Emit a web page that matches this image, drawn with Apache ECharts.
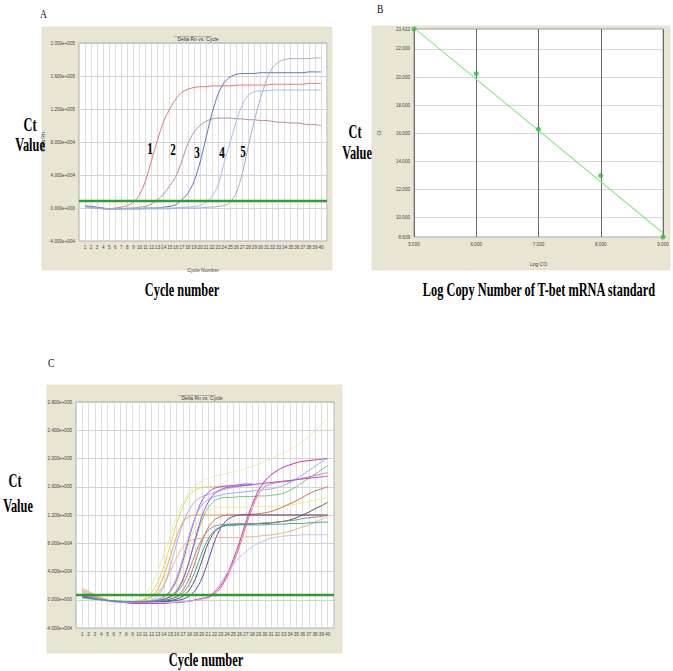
<!DOCTYPE html>
<html><head><meta charset="utf-8">
<script src="https://cdn.jsdelivr.net/npm/echarts@6/dist/echarts.min.js"></script>
<style>html,body{margin:0;padding:0;background:#fff}#c{width:673px;height:671px}</style>
</head><body><div id="c"></div>
<script>
// ---------- DATA ----------
const cycles = [1,2,3,4,5,6,7,8,9,10,11,12,13,14,15,16,17,18,19,20,21,22,23,24,25,26,27,28,29,30,31,32,33,34,35,36,37,38,39,40];
// Panel A: Delta Rn (x1000) per cycle for the 5 standards
const stdNames = ['1','2','3','4','5'];
const std1 = [2,1,0,-1,-1,0,1,3,7,16,33,58,83,105,120,132,140,144,146,147,147,148,148,148,148,149,149,149,149,149,149,150,150,150,150,150,150,151,151,151];
const std2 = [2,1,0,-1,-1,-1,-1,0,0,1,2,5,10,17,27,38,57,78,92,100,105,108,109,109,109,108,108,107,107,106,106,105,104,104,103,103,102,101,101,100];
const std3 = [3,2,1,0,-1,-1,-1,-1,-1,-1,0,0,0,1,2,4,10,18,32,55,85,115,138,152,159,162,163,163,163,164,164,164,164,164,164,164,164,165,165,165];
const std4 = [2,1,0,-1,-1,-1,-1,-1,-1,-1,-1,0,0,0,0,0,1,1,2,3,7,14,28,55,80,105,125,137,141,142,142,143,143,143,143,143,143,143,143,143];
const std5 = [1,0,0,-1,-1,-1,-1,-1,-1,-1,-1,-1,-1,-1,-1,0,0,0,0,0,1,1,2,3,7,18,42,75,106,133,155,170,177,180,181,181,181,181,182,182];
const thresholdA = 8.5;
const yTicksA = [-40,0,40,80,120,160,200];

// Panel B: standard curve
const logCO = [5,6,7,8,9];
const ctVals = [23.422,20.24,16.29,12.98,8.609];
const fitX = [5,9];
const fitCt = [23.5,8.9];
const yTicksB = [8.609,10,12,14,16,18,20,22,23.422];
const xTicksB = [5,6,7,8,9];

// Panel C: samples, Delta Rn (x1000)
const s01 = [5,3,1,0,-1,-2,-2,-2,-1,2,8,20,40,65,92,118,138,152,162,168,172,175,177,179,181,183,186,189,192,196,200,204,208,213,218,224,231,239,248,258];
const s02 = [8,5,2,0,-2,-3,-3,-3,-3,-2,2,10,25,48,78,108,132,148,156,159,160,160,161,161,161,162,162,162];
const s03 = [12,8,4,1,-1,-2,-3,-3,-3,-3,-2,0,6,20,48,80,108,128,140,146,149,152,155,157,159,161,162,163];
const s04 = [6,4,2,0,-1,-2,-3,-4,-4,-4,-3,-2,0,4,12,28,55,88,118,140,152,158,160,161,162,163,164,164];
const s05 = [14,10,6,3,0,-2,-3,-3,-3,-2,0,5,15,35,62,90,110,118,120,120,120,120,120,120,120,120,120,120,120,120,120,120,120,120,120,120,120,120,120,120];
const s06 = [10,7,4,1,-1,-2,-3,-4,-4,-4,-4,-3,-2,0,5,14,30,55,85,112,130,140,144,145,145,146,146,146,147,147,148,149,151,155,160,166,172,178,184,190];
const s07 = [3,2,1,0,-1,-2,-3,-4,-5,-5,-5,-5,-5,-5,-4,-4,-3,-2,-1,1,3,8,17,32,52,76,104,130,150,160,164,166,167,168,170,172,174,176,178,180];
const s08 = [4,3,1,0,-1,-2,-3,-4,-5,-5,-5,-5,-5,-5,-4,-4,-3,-2,0,2,4,10,20,36,57,82,110,135,155,168,177,183,188,191,194,196,197,198,199,200];
const s09 = [9,6,3,1,-1,-2,-3,-3,-3,-3,-3,-2,0,3,10,24,48,80,105,120,127,130,131,131,131,131,131,131,132,132,132,133,133,134,135,137,139,141,143,145];
const s10 = [7,5,3,1,-1,-2,-3,-3,-3,-3,-3,-3,-2,-1,1,5,14,30,55,82,102,113,118,120,120,120,121,121,122,123,125,128,132,136,140,145,150,154,157,160];
const s11 = [5,3,1,0,-1,-2,-3,-3,-3,-3,-3,-3,-3,-2,-1,1,5,14,30,55,80,96,103,106,107,107,107,107,108,108,109,110,111,113,116,120,124,129,133,138];
const s12 = [6,4,2,0,-1,-2,-3,-3,-4,-4,-4,-4,-3,-3,-2,-1,1,5,14,30,55,82,102,113,118,120,120,120,120,120,120,120,120,120,120,120,120,120,120,120];
const s13 = [4,3,1,0,-1,-2,-2,-3,-3,-3,-3,-2,-1,1,4,10,22,42,66,86,98,104,106,107,107,108,108,108,108,109,109,110,111,112,113,115,116,117,118,120];
const s14 = [16,12,7,3,0,-2,-3,-3,-3,-2,0,4,10,22,40,60,75,83,86,87,88,88,88,88,88,88,89,89,90,91,92,93,95,97,100,103,106,110,114,118];
const s15 = [2,1,0,-1,-2,-3,-4,-4,-4,-4,-4,-4,-4,-4,-4,-3,-3,-2,-1,1,5,12,24,38,50,60,68,75,80,84,87,89,90,91,91,92,92,92,92,92];
const s16 = [8,5,3,1,-1,-2,-3,-3,-3,-3,-2,-1,1,5,14,32,60,92,118,134,142,146,148,150,151,152,153,154,155,156,157,159,162,166,171,177,183,189,195,200];
const s17 = [5,3,1,0,-1,-2,-3,-3,-3,-3,-3,-2,-1,1,4,12,28,55,88,118,138,150,156,159,160,161,162,163,164,165,166,167,168,169,170,171,172,173,174,175];
const s18 = [3,2,1,0,-1,-2,-2,-3,-3,-3,-3,-3,-2,-1,1,4,10,22,42,66,86,98,103,105,105,106,106,106,106,106,107,107,107,108,108,108,109,109,110,110];
const samplesC = [s01,s02,s03,s04,s05,s06,s07,s08,s09,s10,s11,s12,s13,s14,s15,s16,s17,s18];
const thresholdC = 7;
const yTicksC = [-40,0,40,80,120,160,200,240,280];

// ---------- STYLE ----------
const stdColors = ['#e07878','#b48aa6','#5e72c4','#a8bcec','#9fb2c8'];
const sampleColors = ['#e4f0a8','#e2d65a','#a8aaf2','#b64cc8','#f0a646','#78c878','#ec6a98','#d02ea8','#eeee90','#c87454','#54545c','#4c4cac','#9c8c74','#ecb478','#ccbcf2','#94b2f0','#a44ce0','#44a2a2'];
const sans = 'Liberation Sans';
const serif = 'Liberation Serif';
const beige = '#e8e5d2';

function sci(v){
  const n = v*1000;
  if (n === 0) return '0.000e+000';
  const e = Math.floor(Math.log10(Math.abs(n)) + 1e-9);
  const m = n/Math.pow(10,e);
  return m.toFixed(3)+'e'+(e<0?'-':'+')+String(Math.abs(e)).padStart(3,'0');
}
const tinyLabel = {fontFamily:sans,fontSize:4.6,color:'#444'};

function cycleAxis(gi){
  return {type:'value',gridIndex:gi,min:0,max:41,interval:1,
    axisLine:{show:false},axisTick:{show:false},
    axisLabel:Object.assign({margin:4,hideOverlap:false,showMinLabel:true,showMaxLabel:true,
      formatter:v=>(v>=1&&v<=40)?String(v):''},tinyLabel),
    splitLine:{show:true,lineStyle:{color:'#d6d6d6',width:0.8}}};
}
function rnAxis(gi,ticks){
  return {type:'value',gridIndex:gi,min:ticks[0],max:ticks[ticks.length-1],interval:40,
    axisLine:{show:false},axisTick:{show:false},
    axisLabel:Object.assign({margin:4,formatter:sci,showMinLabel:true,showMaxLabel:true},tinyLabel),
    splitLine:{show:true,lineStyle:{color:'#c8c8c8',width:0.8}}};
}
function thrLine(val){
  return {silent:true,symbol:['none','none'],label:{show:false},
    lineStyle:{color:'#2f9e2f',width:2.4,type:'solid'},data:[{yAxis:val}]};
}

const series = [];
[std1,std2,std3,std4,std5].forEach((arr,i)=>{
  const s = {type:'line',name:stdNames[i],xAxisIndex:0,yAxisIndex:0,showSymbol:false,smooth:0.3,
    lineStyle:{color:stdColors[i],width:1},data:arr.map((v,k)=>[cycles[k],v]),z:3};
  if(i===0) s.markLine = thrLine(thresholdA);
  series.push(s);
});
series.push({type:'line',xAxisIndex:1,yAxisIndex:1,showSymbol:false,
  lineStyle:{color:'#8fe88f',width:1.2},data:fitX.map((x,k)=>[x,fitCt[k]]),z:2});
series.push({type:'scatter',xAxisIndex:1,yAxisIndex:1,symbolSize:5,
  itemStyle:{color:'#2fbf3a'},data:logCO.map((x,k)=>[x,ctVals[k]]),z:3});
samplesC.forEach((arr,i)=>{
  const s = {type:'line',xAxisIndex:2,yAxisIndex:2,showSymbol:false,smooth:0.3,
    lineStyle:{color:sampleColors[i],width:1},data:arr.map((v,k)=>[cycles[k],v]),z:3};
  if(i===0) s.markLine = thrLine(thresholdC);
  series.push(s);
});

function bigText(x,y,t,size,align){
  return {type:'text',x:x,y:y,scaleX:0.65,z:50,
    style:{text:t,font:'bold '+(size||19)+'px '+serif,fill:'#000',align:align||'center',verticalAlign:'middle'}};
}
function letter(x,y,t){
  return {type:'text',x:x,y:y,scaleX:0.8,z:50,
    style:{text:t,font:'12px '+serif,fill:'#111',align:'left',verticalAlign:'middle'}};
}
function frame(x,y,w,h){
  return {type:'rect',z:-10,shape:{x:x,y:y,width:w,height:h},style:{fill:beige,stroke:'#d8d4bf',lineWidth:0.5}};
}
function underline(cx,y,w){
  return {type:'line',z:5,shape:{x1:cx-w/2,y1:y,x2:cx+w/2,y2:y},style:{stroke:'#555',lineWidth:0.4}};
}

const option = {
  animation:false,
  backgroundColor:'#fff',
  title:[
    {text:'Delta Rn vs. Cycle',left:193,top:31,textAlign:'center',textStyle:{fontFamily:sans,fontSize:5,fontWeight:'normal',color:'#333'}},
    {text:'Delta Rn vs. Cycle',left:197,top:390,textAlign:'center',textStyle:{fontFamily:sans,fontSize:5,fontWeight:'normal',color:'#333'}}
  ],
  grid:[
    {left:79,top:43,width:248,height:198,show:true,backgroundColor:'#fff',borderColor:'#9a9a9a',borderWidth:0.8},
    {left:414,top:29,width:249,height:208,show:true,backgroundColor:'#fff',borderColor:'#8a8a8a',borderWidth:0.8},
    {left:76,top:402,width:258,height:226,show:true,backgroundColor:'#fff',borderColor:'#9a9a9a',borderWidth:0.8}
  ],
  xAxis:[
    Object.assign(cycleAxis(0),{name:'Cycle Number',nameLocation:'middle',nameGap:26,nameTextStyle:{fontFamily:sans,fontSize:5,color:'#444'}}),
    {type:'value',gridIndex:1,min:5,max:9,interval:1,name:'Log CO',nameLocation:'middle',nameGap:24,
      nameTextStyle:{fontFamily:sans,fontSize:5,color:'#444'},
      axisLine:{show:false},axisTick:{show:false},
      axisLabel:Object.assign({margin:5,formatter:v=>v.toFixed(3),showMinLabel:true,showMaxLabel:true},tinyLabel),
      splitLine:{show:true,lineStyle:{color:'#6a6a6a',width:1}}},
    cycleAxis(2)
  ],
  yAxis:[
    Object.assign(rnAxis(0,yTicksA),{name:'Delta Rn',nameLocation:'middle',nameGap:31,nameRotate:90,nameTextStyle:{fontFamily:sans,fontSize:5,color:'#444'}}),
    {type:'value',gridIndex:1,min:yTicksB[0],max:yTicksB[yTicksB.length-1],
      name:'Ct',nameLocation:'middle',nameGap:33,nameRotate:90,nameTextStyle:{fontFamily:sans,fontSize:5,color:'#444'},
      axisLine:{show:false},
      axisTick:{show:false,customValues:yTicksB},
      axisLabel:Object.assign({margin:4,customValues:yTicksB,formatter:v=>v.toFixed(3)},tinyLabel),
      splitLine:{show:true,lineStyle:{color:'#cccccc',width:0.8}}},
    rnAxis(2,yTicksC)
  ],
  graphic:[
    frame(42,27,290,243), frame(372,26,298,244), frame(47,385,295,268),
    underline(193,36.5,38), underline(197,395.5,38),
    letter(40,14,'A'), letter(377,9,'B'), letter(48,363,'C'),
    bigText(30,124,'Ct'), bigText(30,144,'Value'),
    bigText(355,131,'Ct'), bigText(357,152,'Value'),
    bigText(15,480,'Ct'), bigText(18,505,'Value'),
    bigText(182,289,'Cycle number'),
    bigText(539,289,'Log Copy Number of T-bet mRNA standard'),
    bigText(206,659,'Cycle number'),
    bigText(150,148,'1',17), bigText(173,149,'2',17), bigText(197,152,'3',17), bigText(222,152,'4',17), bigText(243,151,'5',17)
  ],
  series:series
};
const chart = echarts.init(document.getElementById('c'),null,{renderer:'svg'});
chart.setOption(option);
</script></body></html>
